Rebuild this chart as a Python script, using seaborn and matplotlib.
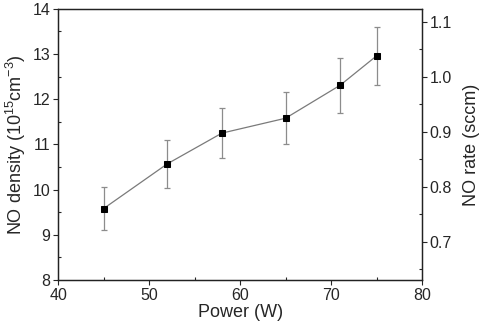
import numpy as np
import pandas as pd
import matplotlib
matplotlib.use('Agg')
import matplotlib.pyplot as plt
from matplotlib.ticker import MultipleLocator, FormatStrFormatter
import seaborn as sns

# Data
power = [45, 52, 58, 65, 71, 75]
density = [9.58, 10.57, 11.25, 11.58, 12.31, 12.96]
density_err = [0.47, 0.53, 0.56, 0.58, 0.61, 0.65]

sns.set_style('ticks')
plt.rcParams['font.family'] = ['Liberation Sans', 'DejaVu Sans']
plt.rcParams['mathtext.fontset'] = 'custom'
plt.rcParams['mathtext.rm'] = 'Liberation Sans'
plt.rcParams['mathtext.it'] = 'Liberation Sans'

df = pd.DataFrame({'Power': power, 'Density': density})

fig = plt.figure(figsize=(4.84, 3.29), dpi=100)
ax = fig.add_axes([0.12, 0.149, 0.752, 0.824])

# error bars first, then the line and markers on top
ax.errorbar(power, density, yerr=density_err, fmt='none', ecolor='#8c8c8c',
            elinewidth=0.9, capsize=2.5, capthick=0.9, zorder=2)
sns.lineplot(data=df, x='Power', y='Density', ax=ax, color='#7a7a7a', linewidth=0.9,
             marker='s', markersize=4.2, markerfacecolor='black', markeredgecolor='black',
             zorder=3)

ax.set_xlim(40, 80)
ax.set_ylim(8, 14)
ax.xaxis.set_major_locator(MultipleLocator(10))
ax.xaxis.set_minor_locator(MultipleLocator(5))
ax.yaxis.set_major_locator(MultipleLocator(1))
ax.yaxis.set_minor_locator(MultipleLocator(0.5))
ax.set_xlabel('Power (W)', fontsize=13, labelpad=1)
ax.set_ylabel('NO density (10$^{15}$cm$^{-3}$)', fontsize=13, labelpad=3)
ax.tick_params(which='major', direction='out', length=3.5, width=0.8, labelsize=11.5, pad=2)
ax.tick_params(which='minor', direction='in', length=2.5, width=0.8)

# right axis for NO rate
ax2 = ax.twinx()
ax2.set_ylim(0.63, 1.124)
ax2.yaxis.set_major_locator(MultipleLocator(0.1))
ax2.yaxis.set_minor_locator(MultipleLocator(0.05))
ax2.yaxis.set_major_formatter(FormatStrFormatter('%.1f'))
ax2.set_ylabel('NO rate (sccm)', fontsize=13, labelpad=8)
ax2.tick_params(which='major', direction='out', length=3.5, width=0.8, labelsize=11.5, pad=2)
ax2.tick_params(which='minor', direction='in', length=2.5, width=0.8)

for a in (ax, ax2):
    for s in a.spines.values():
        s.set_visible(True)
        s.set_linewidth(0.9)
        s.set_color('#222222')

fig.savefig('out.png', dpi=100)
